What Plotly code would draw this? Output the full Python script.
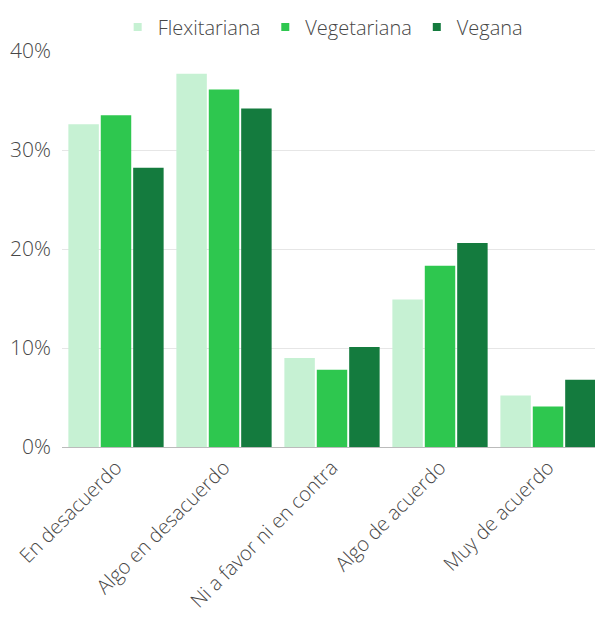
import plotly.graph_objects as go

categories = ["En desacuerdo", "Algo en desacuerdo", "Ni a favor ni en contra",
              "Algo de acuerdo", "Muy de acuerdo"]
flexitariana = [32.6, 37.7, 9.0, 14.9, 5.2]
vegetariana = [33.5, 36.1, 7.8, 18.3, 4.1]
vegana = [28.2, 34.2, 10.1, 20.6, 6.8]

y_ticks = [0, 10, 20, 30, 40]
y_tick_labels = ["0%", "10%", "20%", "30%", "40%"]

series = [
    ("Flexitariana", flexitariana, "#c6f1d3"),
    ("Vegetariana", vegetariana, "#2ec74f"),
    ("Vegana", vegana, "#147b3e"),
]

FONT = "Open Sans"
TEXT = "#474747"

fig = go.Figure()
for name, values, color in series:
    fig.add_trace(go.Bar(
        x=categories, y=values, name=name,
        marker=dict(color=color, line=dict(width=0)),
        showlegend=False,
    ))
# small square legend keys
for name, values, color in series:
    fig.add_trace(go.Scatter(
        x=[None], y=[None], mode="markers", name=name,
        marker=dict(symbol="square", size=8, color=color),
    ))

fig.update_layout(
    width=595, height=619,
    margin=dict(l=62, r=0, t=51, b=172, autoexpand=False),
    paper_bgcolor="white", plot_bgcolor="white",
    barmode="group", bargap=0.1, bargroupgap=0.06,
    font=dict(family=FONT, size=20, color=TEXT, weight=300),
    legend=dict(orientation="h", x=0.49, xanchor="center",
                y=1 - 27 / 619, yanchor="middle", yref="container",
                font=dict(size=20, color=TEXT, weight=300),
                itemwidth=30, tracegroupgap=0),
    xaxis=dict(range=[-0.5, 4.435], tickangle=-45, showgrid=False,
               showline=True, linecolor="#bbbbbb", linewidth=1,
               ticks="", tickfont=dict(size=20, color=TEXT, weight=300)),
    yaxis=dict(range=[0, 40], tickvals=y_ticks, ticktext=y_tick_labels,
               showgrid=True, gridcolor="#e6e6e6", gridwidth=1,
               zeroline=False, showline=False, ticks="",
               ticklabelstandoff=10,
               tickfont=dict(size=21, color=TEXT, weight=300)),
)

fig.write_html("out.html")
